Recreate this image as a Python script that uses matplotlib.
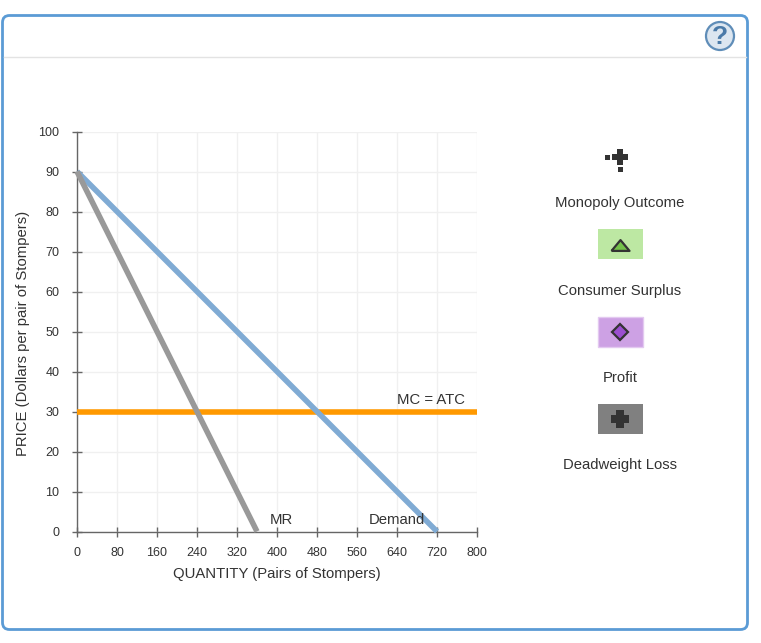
"""Monopoly graph: demand, marginal revenue and MC = ATC, with the tool palette on the right."""
import matplotlib
matplotlib.use('Agg')
from matplotlib import pyplot as plt
from matplotlib.patches import Circle, FancyBboxPatch, Rectangle

plt.rcParams['font.family'] = ['Liberation Sans', 'DejaVu Sans']

WIDTH, HEIGHT = 761, 643

x_ticks = [0, 80, 160, 240, 320, 400, 480, 560, 640, 720, 800]
y_ticks = [0, 10, 20, 30, 40, 50, 60, 70, 80, 90, 100]

demand_q = [0, 720]
demand_p = [90, 0]
mr_q = [0, 360]
mr_p = [90, 0]
mc_q = [0, 800]
mc_p = [30, 30]

palette_labels = ['Monopoly Outcome', 'Consumer Surplus', 'Profit', 'Deadweight Loss']

TEXT = '#333333'
AXIS = '#666666'
GRID = '#f0f0f0'
LABEL_SIZE = 10.7

# fat plus and flat triangle, the stock markers are too thin for these icons
FAT_PLUS = [(-1, -0.45), (-0.45, -0.45), (-0.45, -1), (0.45, -1), (0.45, -0.45), (1, -0.45),
            (1, 0.45), (0.45, 0.45), (0.45, 1), (-0.45, 1), (-0.45, 0.45), (-1, 0.45), (-1, -0.45)]
FLAT_TRIANGLE = [(-1, -0.6), (1, -0.6), (0, 0.6), (-1, -0.6)]

fig = plt.figure(figsize=(WIDTH / 100, HEIGHT / 100), dpi=100)

# page layer in pixel coordinates, for the frame and the palette
page = fig.add_axes([0, 0, 1, 1])
page.set_xlim(0, WIDTH)
page.set_ylim(HEIGHT, 0)
page.axis('off')

page.add_patch(FancyBboxPatch((2.5, 15.5), 745, 614, boxstyle='round,pad=0,rounding_size=7',
                              fc='white', ec='#5b9bd5', lw=2))
page.plot([4, 746], [56.5, 56.5], color='#e3e3e3', lw=1)
page.add_patch(Circle((720, 36), 14, fc='#dce6f0', ec='#5f8db8', lw=1.6))
page.text(720, 36.5, '?', ha='center', va='center', fontsize=19, fontweight='bold', color='#4a7aa8')

# axes, placed so that the plot box lands on the reference pixels
left, right, top, bottom = 77.0, 477.0, 131.5, 531.5
ax = fig.add_axes([left / WIDTH, 1 - bottom / HEIGHT, (right - left) / WIDTH, (bottom - top) / HEIGHT])
ax.patch.set_alpha(0)
ax.set_xlim(0, 800)
ax.set_ylim(0, 100)
ax.set_xticks(x_ticks)
ax.set_yticks(y_ticks)
ax.grid(True, color=GRID, lw=1)
ax.set_axisbelow(True)
ax.tick_params(direction='inout', length=7.2, width=1, color=AXIS, labelsize=9, labelcolor=TEXT)
ax.tick_params(axis='x', pad=7.5)
ax.tick_params(axis='y', pad=9)
for side in ['top', 'right']:
    ax.spines[side].set_visible(False)
for side in ['left', 'bottom']:
    ax.spines[side].set_color(AXIS)
    ax.spines[side].set_linewidth(1)

ax.plot(mc_q, mc_p, color='#ff9900', lw=4, solid_capstyle='butt', clip_on=False, zorder=3)
ax.plot(demand_q, demand_p, color='#80abd4', lw=4, solid_capstyle='butt', clip_on=False, zorder=4)
ax.plot(mr_q, mr_p, color='#999999', lw=4, solid_capstyle='butt', clip_on=False, zorder=4)

ax.text(776, 33, 'MC = ATC', ha='right', va='center', fontsize=LABEL_SIZE, color=TEXT)
ax.text(408, 3, 'MR', ha='center', va='center', fontsize=LABEL_SIZE, color=TEXT)
ax.text(640, 3, 'Demand', ha='center', va='center', fontsize=LABEL_SIZE, color=TEXT, zorder=5)

ax.set_xlabel('QUANTITY (Pairs of Stompers)', fontsize=LABEL_SIZE, color=TEXT, labelpad=5.5)
page.text(23.5, 333, 'PRICE (Dollars per pair of Stompers)', rotation=90, ha='center', va='center',
          fontsize=LABEL_SIZE, color=TEXT)

# palette
for label, y in zip(palette_labels, [203, 291, 378, 465]):
    page.text(620, y, label, ha='center', va='center', fontsize=LABEL_SIZE, color=TEXT)

page.plot([620], [156.5], marker=FAT_PLUS, ms=11, mfc='#333333', mew=0)
page.plot([606.5], [156.5], marker='s', ms=3.6, mfc='#333333', mew=0)
page.plot([620], [169], marker='s', ms=3.6, mfc='#333333', mew=0)

page.add_patch(Rectangle((597.5, 229), 45, 30, fc='#bde8a3', ec='none'))
page.plot([620], [245], marker=FLAT_TRIANGLE, ms=13, mfc='#74c24a', mec='#333333', mew=1.6)

page.add_patch(Rectangle((597.5, 316.5), 45, 30, fc='#cda1e4', ec='#e3c9f0', lw=1))
page.plot([620], [331.5], marker='D', ms=8, mfc='#9b4fd0', mec='#333333', mew=1.6)

page.add_patch(Rectangle((597.5, 404), 45, 30, fc='#808080', ec='none'))
page.plot([620], [419], marker=FAT_PLUS, ms=13, mfc='#333333', mew=0)

fig.savefig('out.png', dpi=100)
